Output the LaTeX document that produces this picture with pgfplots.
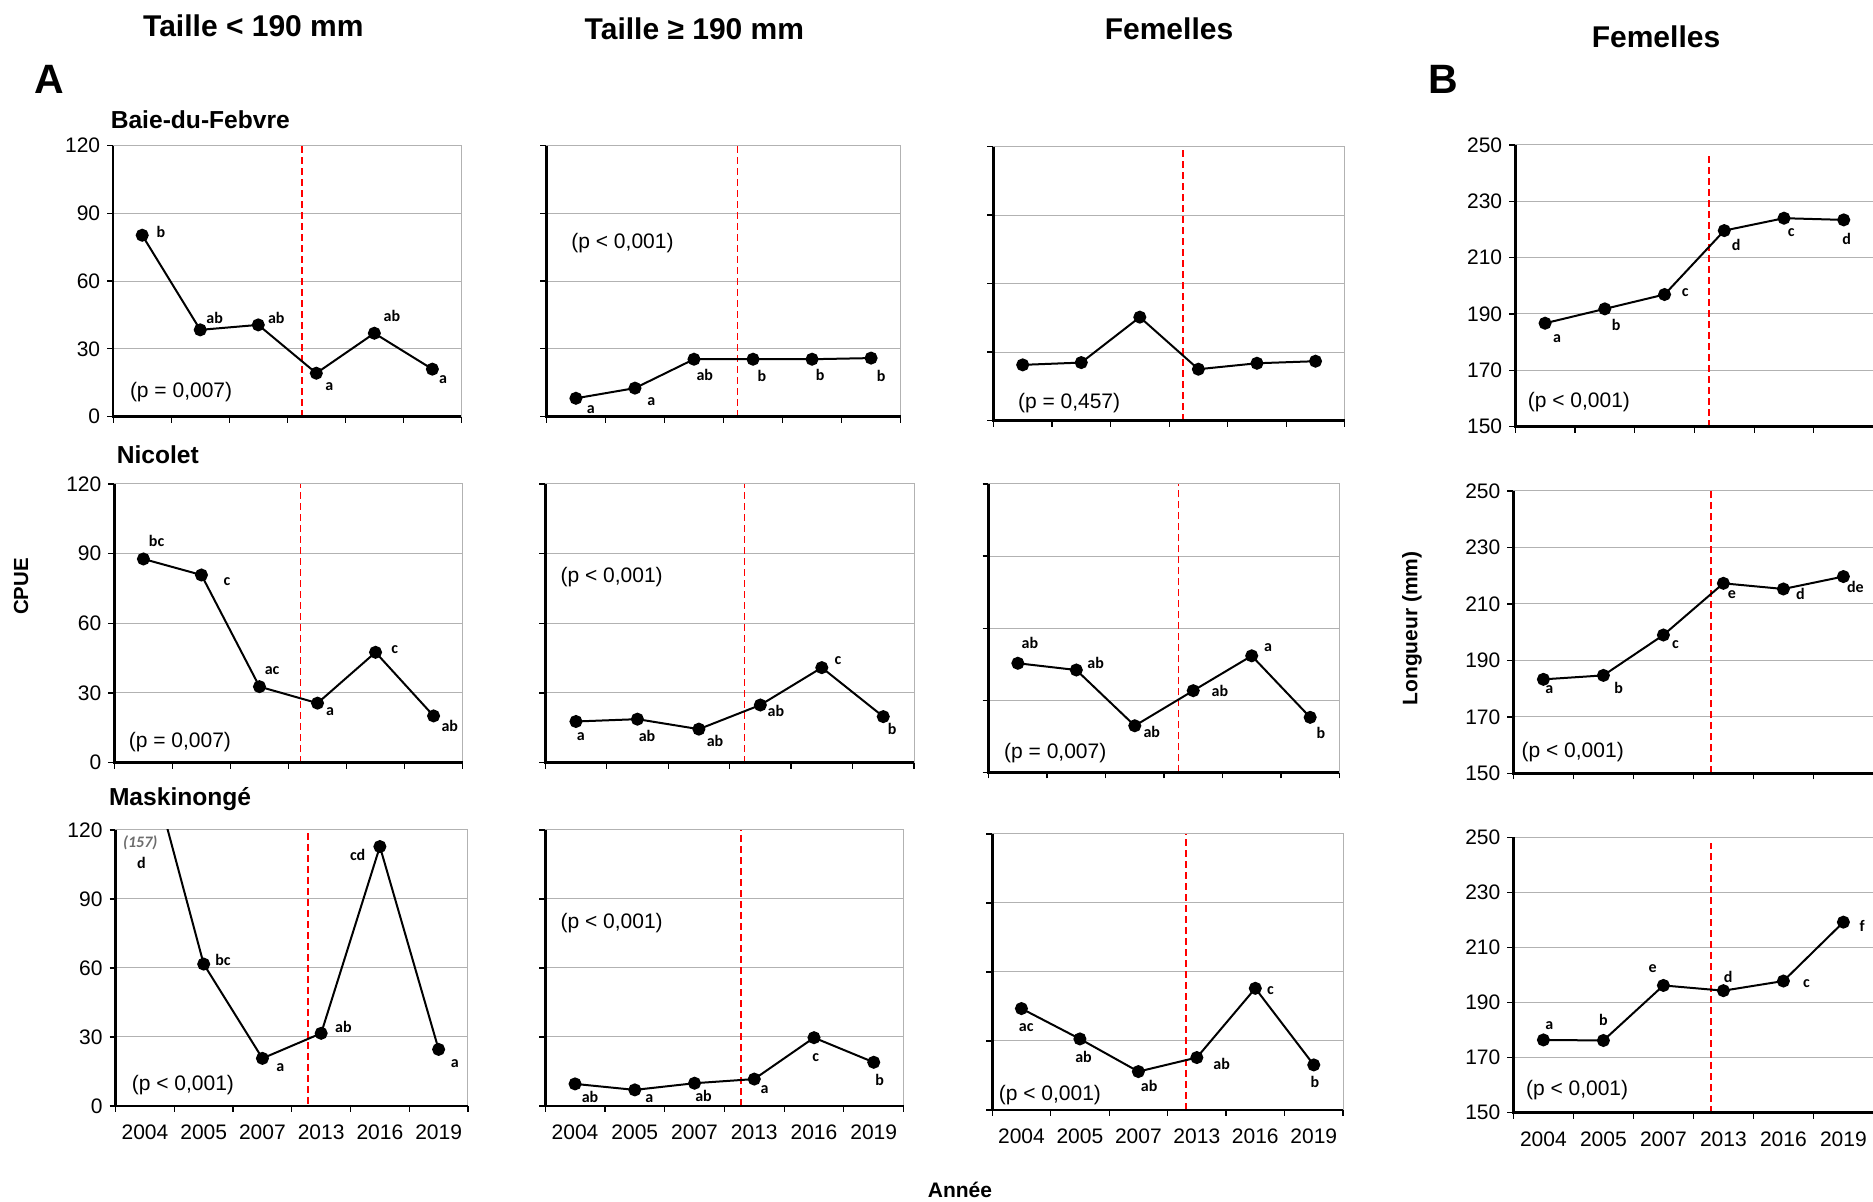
\documentclass[border=0pt]{standalone}
\usepackage{fontspec}
\setmainfont{Liberation Sans}
\newfontfamily\carlito{Carlito}
\usepackage{pgfplots}
\pgfplotsset{compat=1.18}
\newcommand{\lbl}{\carlito\bfseries\fontsize{8}{9}\selectfont}
\newcommand{\lab}[5]{\node[font=\lbl, inner sep=0pt] at (axis cs:#1,#2) [xshift=#3pt, yshift=#4pt] {#5};}
\newcommand{\pv}{\fontsize{10.5}{12}\selectfont}
\pgfplotsset{
 base/.style={
  scale only axis, anchor=south west,
  xmin=-0.5, xmax=5.5,
  xtick={-0.5,0.5,...,5.5}, xticklabels={},
  tick align=outside, xtick pos=bottom, ytick pos=left,
  major tick length=3pt,
  tick style={black, line width=0.6pt},
  ymajorgrids, grid style={gray!60, line width=0.5pt},
  axis line style={gray!60, line width=0.5pt},
  tick label style={font=\fontsize{10.5}{12}\selectfont},
  /pgf/number format/assume math mode=true,
  clip mode=individual,
  after end axis/.code={\draw[black, line width=1.3pt] (rel axis cs:0,1) -- (rel axis cs:0,0) -- (rel axis cs:1,0);},
 },
 cpue/.style={base, ymin=0, ymax=120, ytick={0,30,...,120}},
 nolab/.style={yticklabels={}},
 long/.style={base, ymin=150, ymax=250, ytick={150,170,...,250}},
 years/.style={extra x ticks={0,...,5}, extra x tick labels={2004,2005,2007,2013,2016,2019}, extra x tick style={major tick length=0pt}, xticklabel style={yshift=-6pt}},
 ser/.style={black, line width=1pt, mark=*, mark size=2.75pt, mark options={solid}},
 vline/.style={red, line width=0.8pt, dash pattern=on 3.5pt off 2pt},
}
\begin{document}
\begin{tikzpicture}
\useasboundingbox (0,0) rectangle (936.5pt,601pt);

% ---------------- Row 1 ----------------
\begin{axis}[cpue, at={(56.6pt,392.7pt)}, width=174.1pt, height=135.5pt]
\addplot[vline] coordinates {(2.75,0) (2.75,120)};
\addplot[ser] coordinates {(0,80.3) (1,38.4) (2,40.6) (3,19.2) (4,36.9) (5,21.0)};
\lab{0}{80.3}{9.3}{1.8}{b}\lab{1}{38.4}{7.2}{5.8}{ab}\lab{2}{40.6}{9}{3.3}{ab}
\lab{3}{19.2}{6.5}{-6.7}{a}\lab{4}{36.9}{8.8}{8.7}{ab}\lab{5}{21.0}{5.4}{-5}{a}
\end{axis}

\begin{axis}[cpue, nolab, at={(273.2pt,392.7pt)}, width=177.1pt, height=135.5pt]
\addplot[vline] coordinates {(2.74,0) (2.74,120)};
\addplot[ser] coordinates {(0,8.1) (1,12.6) (2,25.4) (3,25.4) (4,25.4) (5,25.9)};
\lab{0}{8.1}{7.5}{-5.5}{a}\lab{1}{12.6}{8.2}{-6.7}{a}\lab{2}{25.4}{5.4}{-7.8}{ab}
\lab{3}{25.4}{4.5}{-8.2}{b}\lab{4}{25.4}{4}{-7.8}{b}\lab{5}{25.9}{5}{-8.7}{b}
\end{axis}

\begin{axis}[cpue, nolab, at={(496.7pt,390.7pt)}, width=175.7pt, height=137.0pt]
\addplot[vline] coordinates {(2.74,0) (2.74,120)};
\addplot[ser] coordinates {(0,24.4) (1,25.4) (2,45.3) (3,22.5) (4,25.1) (5,26.0)};
\end{axis}

\begin{axis}[long, at={(757.6pt,387.7pt)}, width=179.2pt, height=140.8pt]
\addplot[vline] coordinates {(2.74,150) (2.74,247.5)};
\addplot[ser] coordinates {(0,186.7) (1,191.8) (2,196.9) (3,219.6) (4,224.0) (5,223.4)};
\lab{0}{186.7}{6}{-7.5}{a}\lab{1}{191.8}{5.7}{-8}{b}\lab{2}{196.9}{10.3}{0.7}{c}
\lab{3}{219.6}{6}{-7.2}{d}\lab{4}{224.0}{3.6}{-7}{c}\lab{5}{223.4}{1.5}{-9.5}{d}
\end{axis}

% ---------------- Row 2 ----------------
\begin{axis}[cpue, at={(57.2pt,219.7pt)}, width=174.1pt, height=139.3pt]
\addplot[vline] coordinates {(2.71,0) (2.71,120)};
\addplot[ser] coordinates {(0,87.7) (1,80.8) (2,32.7) (3,25.6) (4,47.5) (5,20.1)};
\lab{0}{87.7}{6.6}{9.2}{bc}\lab{1}{80.8}{12.7}{-3.3}{c}\lab{2}{32.7}{6.3}{8}{ac}
\lab{3}{25.6}{6.3}{-4.2}{a}\lab{4}{47.5}{9.6}{1.5}{c}\lab{5}{20.1}{8.1}{-5}{ab}
\end{axis}

\begin{axis}[cpue, nolab, at={(272.6pt,219.7pt)}, width=184.4pt, height=139.3pt]
\addplot[vline] coordinates {(2.74,0) (2.74,120)};
\addplot[ser] coordinates {(0,17.7) (1,18.7) (2,14.4) (3,24.8) (4,40.9) (5,19.8)};
\lab{0}{17.7}{2.4}{-7.5}{a}\lab{1}{18.7}{4.8}{-8.2}{ab}\lab{2}{14.4}{8.1}{-5.8}{ab}
\lab{3}{24.8}{7.8}{-2.8}{ab}\lab{4}{40.9}{8.1}{3.5}{c}\lab{5}{19.8}{4.5}{-6}{b}
\end{axis}

\begin{axis}[cpue, nolab, at={(494.3pt,214.8pt)}, width=175.4pt, height=144.2pt]
\addplot[vline] coordinates {(2.75,0) (2.75,120)};
\addplot[ser] coordinates {(0,45.4) (1,42.6) (2,19.4) (3,34.0) (4,48.5) (5,22.9)};
\lab{0}{45.4}{6}{10.3}{ab}\lab{1}{42.6}{9.7}{3.3}{ab}\lab{2}{19.4}{8.5}{-3.3}{ab}
\lab{3}{34.0}{13.3}{0}{ab}\lab{4}{48.5}{8.2}{4.2}{a}\lab{5}{22.9}{5.4}{-7.7}{b}
\end{axis}

\begin{axis}[long, at={(756.7pt,214.3pt)}, width=180.0pt, height=141.2pt]
\addplot[vline] coordinates {(2.79,150) (2.79,250)};
\addplot[ser] coordinates {(0,183.3) (1,184.7) (2,199.0) (3,217.3) (4,215.3) (5,219.7)};
\lab{0}{183.3}{3}{-5.3}{a}\lab{1}{184.7}{7.6}{-6.5}{b}\lab{2}{199.0}{6}{-4.7}{c}
\lab{3}{217.3}{4.2}{-5.5}{e}\lab{4}{215.3}{8.5}{-2.7}{d}\lab{5}{219.7}{6}{-5}{de}
\end{axis}

% ---------------- Row 3 ----------------
\begin{axis}[cpue, years, at={(57.8pt,48.0pt)}, width=176.2pt, height=138.0pt]
\addplot[vline] coordinates {(2.78,1) (2.78,120)};
\addplot[ser] coordinates {(0,157) (1,61.7) (2,20.7) (3,31.6) (4,112.8) (5,24.6)};
\node[font=\carlito\bfseries\itshape\fontsize{8}{9}\selectfont, text=gray!85!black, inner sep=0pt] at (axis cs:-0.08,114.5) {(157)};
\node[font=\lbl, inner sep=0pt] at (axis cs:-0.06,105.8) {d};
\lab{1}{61.7}{9.6}{2.3}{bc}\lab{2}{20.7}{9}{-4.7}{a}\lab{3}{31.6}{11.1}{3.3}{ab}
\lab{4}{112.8}{-11.1}{-4.2}{cd}\lab{5}{24.6}{8.1}{-7.3}{a}
\end{axis}

\begin{axis}[cpue, nolab, years, at={(272.6pt,48.0pt)}, width=179.2pt, height=138.0pt]
\addplot[vline] coordinates {(2.78,0) (2.78,120)};
\addplot[ser] coordinates {(0,9.6) (1,7.0) (2,9.9) (3,11.7) (4,29.7) (5,19.0)};
\lab{0}{9.6}{7.5}{-6.3}{ab}\lab{1}{7.0}{7.2}{-4.2}{a}\lab{2}{9.9}{4.5}{-6.3}{ab}
\lab{3}{11.7}{5.1}{-5.2}{a}\lab{4}{29.7}{0.9}{-10}{c}\lab{5}{19.0}{3}{-8.8}{b}
\end{axis}

\begin{axis}[cpue, nolab, years, at={(496.1pt,46.0pt)}, width=175.4pt, height=138.0pt]
\addplot[vline] coordinates {(2.81,0) (2.81,120)};
\addplot[ser] coordinates {(0,44.1) (1,30.9) (2,16.7) (3,22.8) (4,52.9) (5,19.6)};
\lab{0}{44.1}{2.4}{-9.5}{ac}\lab{1}{30.9}{1.8}{-8.8}{ab}\lab{2}{16.7}{5.4}{-7.2}{ab}
\lab{3}{22.8}{12.4}{-3.3}{ab}\lab{4}{52.9}{7.6}{-1.2}{c}\lab{5}{19.6}{0.6}{-8.7}{b}
\end{axis}

\begin{axis}[long, years, at={(756.7pt,44.7pt)}, width=180.0pt, height=137.6pt]
\addplot[vline] coordinates {(2.79,150) (2.79,248)};
\addplot[ser] coordinates {(0,176.4) (1,176.2) (2,196.2) (3,194.3) (4,197.8) (5,219.2)};
\lab{0}{176.4}{3}{7}{a}\lab{1}{176.2}{0}{10.3}{b}\lab{2}{196.2}{-5.4}{8.2}{e}
\lab{3}{194.3}{2.4}{7}{d}\lab{4}{197.8}{11.5}{-1.2}{c}\lab{5}{219.2}{9.4}{-2}{f}
\end{axis}

% ---------------- p values ----------------
\begin{scope}[every node/.style={font=\pv, inner sep=0pt, anchor=west}]
\node at (64.8pt,405.2pt) {(p = 0,007)};
\node at (285.5pt,479.5pt) {(p < 0,001)};
\node at (508.8pt,399.5pt) {(p = 0,457)};
\node at (763.7pt,400.2pt) {(p < 0,001)};
\node at (64.2pt,230.2pt) {(p = 0,007)};
\node at (280.1pt,312.7pt) {(p < 0,001)};
\node at (501.9pt,224.3pt) {(p = 0,007)};
\node at (760.6pt,225.2pt) {(p < 0,001)};
\node at (65.7pt,58.5pt) {(p < 0,001)};
\node at (280.1pt,139.3pt) {(p < 0,001)};
\node at (499.2pt,53.5pt) {(p < 0,001)};
\node at (762.8pt,56pt) {(p < 0,001)};
\end{scope}

% ---------------- titles ----------------
\begin{scope}[every node/.style={font=\bfseries\fontsize{15}{17}\selectfont, inner sep=0pt}]
\node at (126.7pt,588.2pt) {Taille < 190 mm};
\node at (347.2pt,586.5pt) {Taille ≥ 190 mm};
\node at (584.5pt,586.6pt) {Femelles};
\node at (828pt,582.5pt) {Femelles};
\end{scope}
\node[font=\bfseries\fontsize{20.5}{22}\selectfont, inner sep=0pt] at (24.6pt,561.2pt) {A};
\node[font=\bfseries\fontsize{20.5}{22}\selectfont, inner sep=0pt] at (721.7pt,561.2pt) {B};
\begin{scope}[every node/.style={font=\bfseries\fontsize{12.3}{14}\selectfont, inner sep=0pt, anchor=base west}]
\node at (55.2pt,536.9pt) {Baie-du-Febvre};
\node at (58.2pt,369.3pt) {Nicolet};
\node at (54.3pt,198pt) {Maskinongé};
\end{scope}
\node[font=\bfseries\fontsize{10.2}{12}\selectfont, rotate=90, inner sep=0pt] at (10.5pt,307.7pt) {CPUE};
\node[font=\bfseries\fontsize{10.5}{12}\selectfont, rotate=90, inner sep=0pt] at (706pt,286.8pt) {Longueur (mm)};
\node[font=\bfseries\fontsize{10.5}{12}\selectfont, inner sep=0pt] at (480pt,6pt) {Année};
\end{tikzpicture}
\end{document}
